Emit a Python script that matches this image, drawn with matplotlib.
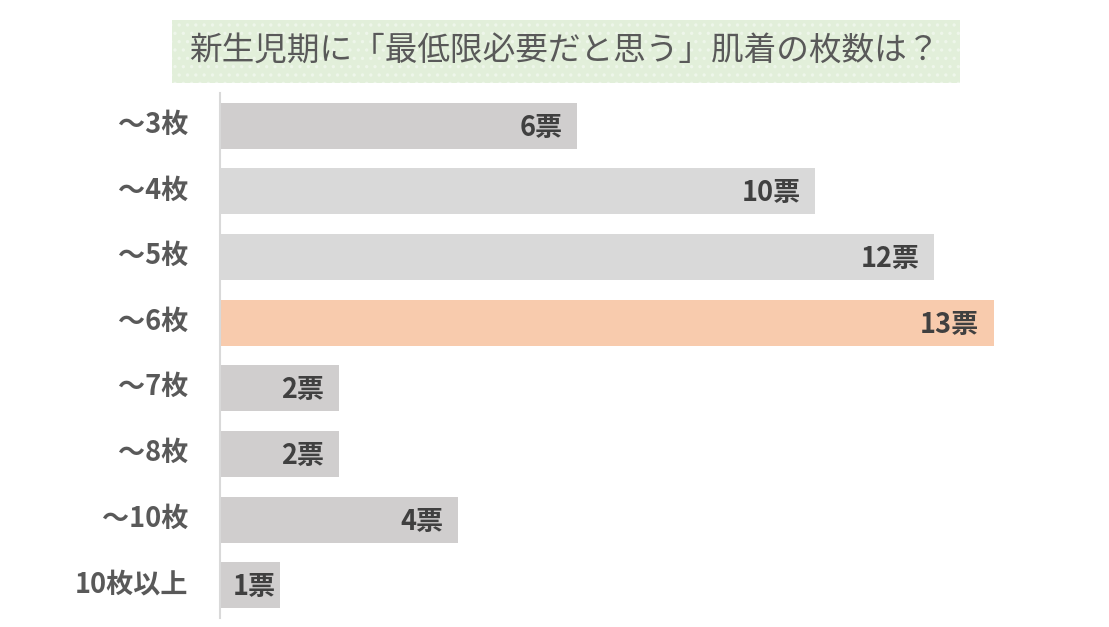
import matplotlib.pyplot as plt
import matplotlib.transforms as mtransforms
from matplotlib.patches import Rectangle

plt.rcParams['font.family'] = ['Noto Sans CJK JP', 'DejaVu Sans']
plt.rcParams['hatch.linewidth'] = 1.2

categories = ['～3枚', '～4枚', '～5枚', '～6枚', '～7枚', '～8枚', '～10枚', '10枚以上']
votes = [6, 10, 12, 13, 2, 2, 4, 1]
bar_colors = ['#d0cece', '#d9d9d9', '#d9d9d9', '#f8cbad', '#d0cece', '#d0cece', '#d0cece', '#d0cece']
title = '新生児期に「最低限必要だと思う」肌着の枚数は？'

W, H = 1109, 627
fig = plt.figure(figsize=(W / 100, H / 100), dpi=100)

# axes: x=0 at px 220, 1 vote ~ 59.5 px; rows from y=93 to 618 px
ax = fig.add_axes([220 / W, 1 - 618 / H, 14 * 59.54 / W, 525 / H])
y = list(range(len(categories)))
ax.barh(y, votes, height=0.7, color=bar_colors)
ax.set_xlim(0, 14)
ax.set_ylim(len(categories) - 0.5, -0.5)

for i, v in enumerate(votes):
    if v < 1.5:
        ax.text(0.22, i + 0.03, f'{v}票', ha='left', va='center', fontsize=19.5,
                fontweight='bold', color='#404040')
    else:
        ax.text(v - 0.25, i + 0.03, f'{v}票', ha='right', va='center', fontsize=19.5,
                fontweight='bold', color='#404040')

ax.set_yticks(y)
ax.set_yticklabels(categories, fontsize=19.5, fontweight='bold', color='#595959')
ax.tick_params(axis='y', length=0, pad=23)
shift = mtransforms.ScaledTranslation(0, 4 / 100, fig.dpi_scale_trans)
for lbl in ax.get_yticklabels():
    lbl.set_transform(lbl.get_transform() + shift)
ax.set_xticks([])
for s in ['top', 'right', 'bottom']:
    ax.spines[s].set_visible(False)
ax.spines['left'].set_color('#d9d9d9')
ax.spines['left'].set_linewidth(1.5)

# title box
box = Rectangle((172 / W, 1 - 83 / H), (960 - 172) / W, 63 / H, transform=fig.transFigure,
                facecolor='#e2efda', edgecolor='#eef6ea', hatch='..', linewidth=0)
fig.patches.append(box)
fig.text(564 / W, 1 - 51 / H, title, ha='center', va='center', fontsize=23.5, color='#595959')

fig.savefig('out.png', dpi=100)
